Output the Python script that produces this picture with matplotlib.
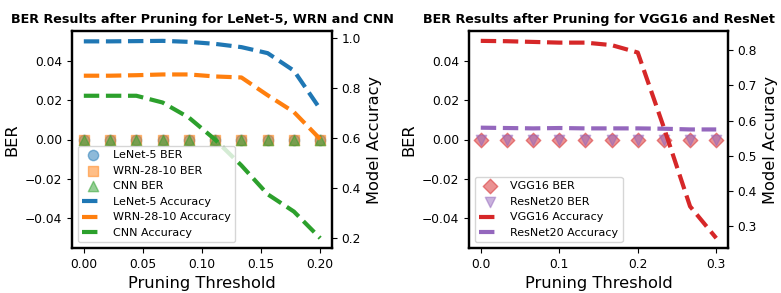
import numpy as np
import matplotlib
matplotlib.use("Agg")
import matplotlib.pyplot as plt

# pruning thresholds
thr_left = np.linspace(0, 0.2, 10)
thr_right = np.linspace(0, 0.3, 10)

# BER (all zero)
lenet_ber = [0.0] * 10
wrn_ber = [0.0] * 10
cnn_ber = [0.0] * 10
vgg_ber = [0.0] * 10
resnet_ber = [0.0] * 10

# accuracy after pruning
lenet_acc = [0.985, 0.985, 0.986, 0.987, 0.983, 0.975, 0.962, 0.938, 0.868, 0.715]
wrn_acc = [0.848, 0.848, 0.850, 0.853, 0.853, 0.845, 0.841, 0.770, 0.703, 0.595]
cnn_acc = [0.768, 0.768, 0.768, 0.741, 0.681, 0.593, 0.490, 0.375, 0.306, 0.200]
vgg_acc = [0.826, 0.825, 0.823, 0.821, 0.821, 0.814, 0.793, 0.580, 0.357, 0.267]
resnet_acc = [0.580, 0.579, 0.578, 0.579, 0.578, 0.578, 0.578, 0.577, 0.575, 0.575]

plt.rcParams['axes.linewidth'] = 1.6
TICK = 8.8
LAB = 11.7

fig = plt.figure(figsize=(7.81, 2.93), dpi=100)
ax1 = fig.add_axes([72 / 781, 45 / 293, 260 / 781, 217 / 293])
ax3 = fig.add_axes([469 / 781, 45 / 293, 259 / 781, 217 / 293])

# ---- left panel
s1 = ax1.scatter(thr_left, lenet_ber, marker='o', s=55, color='tab:blue', alpha=0.5, label='LeNet-5 BER')
s2 = ax1.scatter(thr_left, wrn_ber, marker='s', s=55, color='tab:orange', alpha=0.5, label='WRN-28-10 BER')
s3 = ax1.scatter(thr_left, cnn_ber, marker='^', s=55, color='tab:green', alpha=0.5, label='CNN BER')
ax1.set_xlabel('Pruning Threshold', fontsize=LAB)
ax1.set_ylabel('BER', fontsize=LAB)
ax1.tick_params(labelsize=TICK)
ax1.set_xticks([0.0, 0.05, 0.1, 0.15, 0.2])

ax2 = ax1.twinx()
l1, = ax2.plot(thr_left, lenet_acc, '--', lw=3, color='tab:blue', label='LeNet-5 Accuracy')
l2, = ax2.plot(thr_left, wrn_acc, '--', lw=3, color='tab:orange', label='WRN-28-10 Accuracy')
l3, = ax2.plot(thr_left, cnn_acc, '--', lw=3, color='tab:green', label='CNN Accuracy')
ax2.set_ylabel('Model Accuracy', fontsize=LAB)
ax2.tick_params(labelsize=TICK)
ax2.legend(handles=[s1, s2, s3, l1, l2, l3], loc='lower left', fontsize=8)
ax1.set_title('BER Results after Pruning for LeNet-5, WRN and CNN', fontsize=9.2, fontweight='bold')

# ---- right panel
s4 = ax3.scatter(thr_right, vgg_ber, marker='D', s=55, color='tab:red', alpha=0.5, label='VGG16 BER')
s5 = ax3.scatter(thr_right, resnet_ber, marker='v', s=55, color='tab:purple', alpha=0.5, label='ResNet20 BER')
ax3.set_xlabel('Pruning Threshold', fontsize=LAB)
ax3.set_ylabel('BER', fontsize=LAB)
ax3.tick_params(labelsize=TICK)
ax3.set_xticks([0.0, 0.1, 0.2, 0.3])

ax4 = ax3.twinx()
l4, = ax4.plot(thr_right, vgg_acc, '--', lw=3, color='tab:red', label='VGG16 Accuracy')
l5, = ax4.plot(thr_right, resnet_acc, '--', lw=3, color='tab:purple', label='ResNet20 Accuracy')
ax4.set_ylabel('Model Accuracy', fontsize=LAB)
ax4.tick_params(labelsize=TICK)
ax4.legend(handles=[s4, s5, l4, l5], loc='lower left', fontsize=8)
ax3.set_title('BER Results after Pruning for VGG16 and ResNet', fontsize=9.2, fontweight='bold')

fig.savefig('out.png', dpi=100)
